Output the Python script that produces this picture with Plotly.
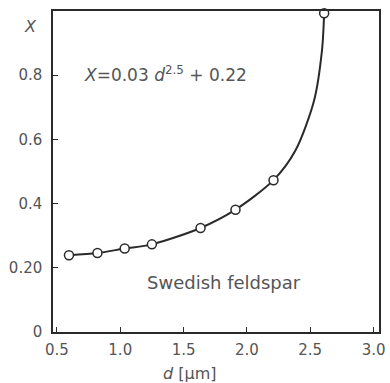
import plotly.graph_objects as go

# measured points
d_pts = [0.595, 0.82, 1.035, 1.25, 1.634, 1.91, 2.21, 2.61]
X_pts = [0.239, 0.246, 0.260, 0.273, 0.324, 0.381, 0.473, 0.993]

# fitted curve
curve_d = [0.595, 0.82, 1.035, 1.25, 1.634, 1.91, 2.21, 2.384, 2.531, 2.593, 2.61]
curve_X = [0.239, 0.246, 0.260, 0.273, 0.324, 0.381, 0.473, 0.566, 0.722, 0.878, 0.993]

x_ticks = [0.5, 1.0, 1.5, 2.0, 2.5, 3.0]
x_labels = ["0.5", "1.0", "1.5", "2.0", "2.5", "3.0"]
y_ticks = [0, 0.2, 0.4, 0.6, 0.8]
y_labels = ["0", "0.20", "0.4", "0.6", "0.8"]

ink = "#2a2a2a"
txt = "#555555"
font_family = "DejaVu Sans"

fig = go.Figure()
fig.add_trace(go.Scatter(x=curve_d, y=curve_X, mode="lines",
                         line=dict(color=ink, width=2, shape="spline", smoothing=0.8),
                         hoverinfo="skip"))
fig.add_trace(go.Scatter(x=d_pts, y=X_pts, mode="markers",
                         marker=dict(symbol="circle", size=9, color="white",
                                     line=dict(color=ink, width=1.5)),
                         cliponaxis=False))

axis_common = dict(showgrid=False, zeroline=False, showline=True, linecolor=ink,
                   linewidth=1.5, mirror=True, ticks="inside", ticklen=5,
                   tickcolor=ink, tickwidth=1.2,
                   tickfont=dict(family=font_family, size=15, color=txt))

fig.update_layout(
    width=390, height=383,
    margin=dict(l=53, r=5, t=11, b=51),
    paper_bgcolor="white", plot_bgcolor="white",
    showlegend=False,
    xaxis=dict(range=[0.469, 3.043], tickvals=x_ticks, ticktext=x_labels,
               ticklabelstandoff=3, **axis_common),
    yaxis=dict(range=[0, 1.0], tickvals=y_ticks, ticktext=y_labels,
               ticklabelstandoff=6, **axis_common),
    annotations=[
        dict(text="<i>X</i>", xref="paper", yref="paper", x=-0.07, y=0.952,
             xanchor="center", yanchor="middle", showarrow=False,
             font=dict(family=font_family, size=16, color=txt)),
        dict(text="<i>d</i> [μm]", xref="paper", yref="paper", x=0.42, y=-0.128,
             xanchor="center", yanchor="middle", showarrow=False,
             font=dict(family=font_family, size=16, color=txt)),
        dict(text="<i>X</i>=0.03 <i>d</i><sup>2.5</sup> + 0.22", xref="paper", yref="paper",
             x=0.09, y=0.805, xanchor="left", yanchor="middle", showarrow=False,
             font=dict(family=font_family, size=17, color=txt)),
        dict(text="Swedish feldspar", xref="paper", yref="paper", x=0.283, y=0.155,
             xanchor="left", yanchor="middle", showarrow=False,
             font=dict(family=font_family, size=18, color=txt)),
    ],
)

fig.write_html("out.html")
